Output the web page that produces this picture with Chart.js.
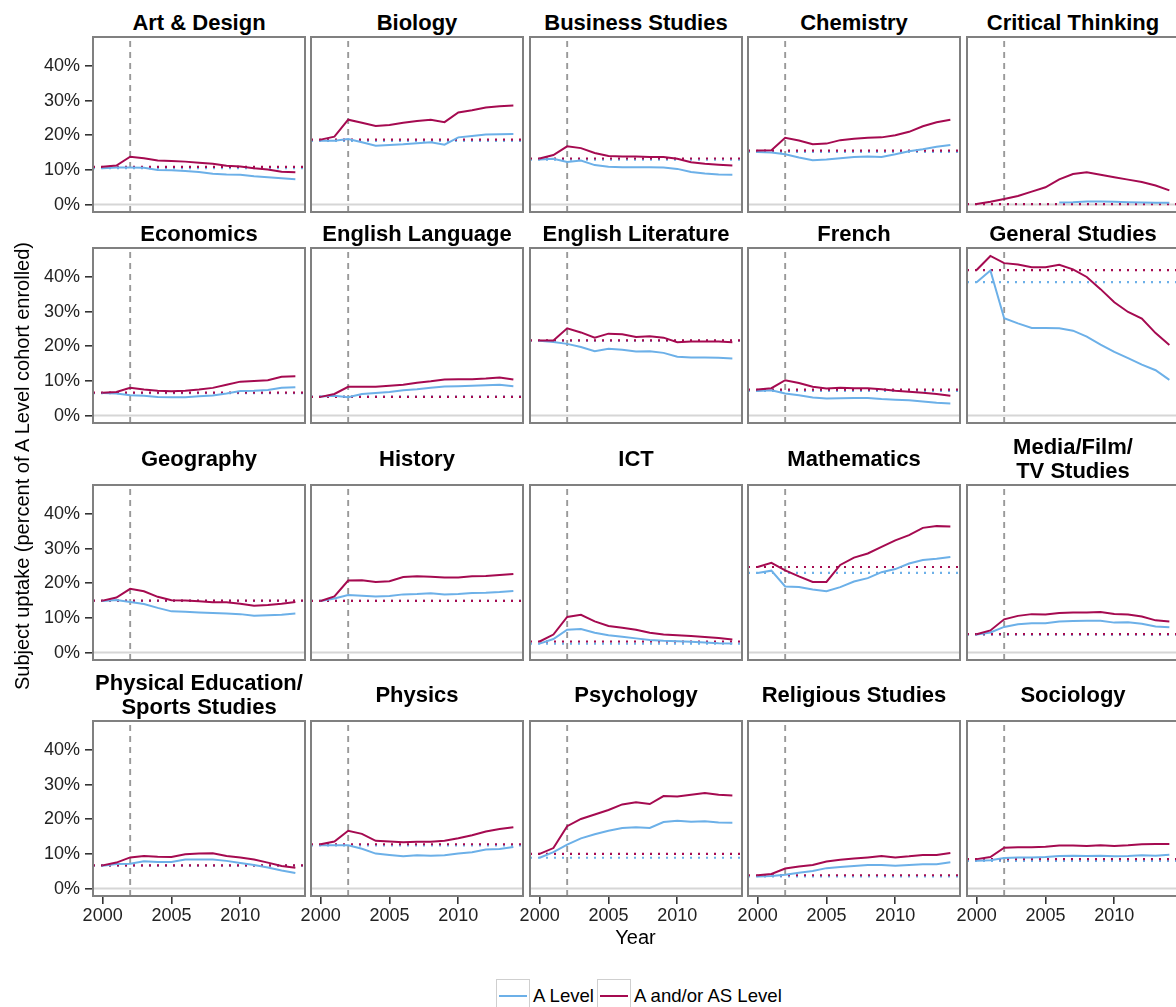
<!DOCTYPE html>
<html>
<head>
<meta charset="utf-8">
<script src="https://cdn.jsdelivr.net/npm/chart.js@4.4.0/dist/chart.umd.min.js"></script>
<style>
  html, body { margin: 0; padding: 0; background: #fff; overflow: hidden; }
  #wrap { position: relative; width: 1176px; height: 1007px; overflow: hidden;
          font-family: "Liberation Sans", Arial, Helvetica, sans-serif; }
  .panel { position: absolute; }
  .panel canvas { display: block; }
  .strip { position: absolute; display: flex; flex-direction: column; justify-content: center;
           align-items: center; font-weight: bold; font-size: 22px; line-height: 24px;
           color: #000; white-space: nowrap; }
  .axis-title { position: absolute; font-size: 20px; line-height: 24px; color: #000;
                text-align: center; white-space: nowrap; }
  .legend { position: absolute; top: 979px; left: 496px; display: flex; align-items: center;
            font-size: 18.6px; color: #000; }
  .key { width: 34px; height: 33px; box-sizing: border-box; border: 1.5px solid #cfcfcf;
         position: relative; margin-right: 3px; }
  .key span { position: absolute; left: 2px; right: 2px; top: 15px; height: 2px; }
  .legend .lbl { margin-right: 3px; }
</style>
</head>
<body>
<div id="wrap"></div>
<script>
// Years of the cohort series
const years = [2000, 2001, 2002, 2003, 2004, 2005, 2006, 2007, 2008, 2009, 2010, 2011, 2012, 2013, 2014];
const reformYear = 2002;

// Axis ticks
const xTicks = [2000, 2005, 2010];
const xTickLabels = ['2000', '2005', '2010'];
const yTicks = [0, 10, 20, 30, 40];
const yTickLabels = ['0%', '10%', '20%', '30%', '40%'];

// Uptake (% of A Level cohort): "A" = A Level, "AS" = A and/or AS Level
const artDesignA  = [10.5, 10.7, 10.7, 10.6, 10.0, 9.9, 9.7, 9.4, 8.9, 8.7, 8.6, 8.2, 7.9, 7.6, 7.3];
const artDesignAS = [10.9, 11.25, 13.8, 13.4, 12.7, 12.6, 12.4, 12.1, 11.8, 11.2, 11.0, 10.5, 10.1, 9.5, 9.3];
const biologyA  = [18.4, 18.4, 18.9, 18.0, 17.0, 17.2, 17.4, 17.7, 18.0, 17.3, 19.4, 19.8, 20.2, 20.3, 20.4];
const biologyAS = [18.75, 19.6, 24.5, 23.6, 22.7, 23.0, 23.6, 24.1, 24.5, 23.8, 26.6, 27.2, 28.0, 28.4, 28.6];
const businessA  = [13.0, 13.2, 12.3, 12.7, 11.4, 10.9, 10.8, 10.8, 10.8, 10.7, 10.3, 9.4, 9.0, 8.7, 8.6];
const businessAS = [13.3, 14.3, 16.8, 16.3, 14.9, 14.0, 13.9, 13.9, 13.75, 13.75, 13.2, 12.2, 11.8, 11.5, 11.25];
const chemistryA  = [15.2, 15.0, 14.5, 13.6, 12.8, 13.0, 13.4, 13.7, 13.85, 13.75, 14.5, 15.4, 16.0, 16.7, 17.2];
const chemistryAS = [15.6, 15.7, 19.3, 18.5, 17.4, 17.6, 18.6, 19.0, 19.3, 19.4, 20.0, 21.0, 22.6, 23.75, 24.5];
const criticalA  = [null, null, null, null, null, null, 0.6, 0.7, 0.9, 0.9, 0.8, 0.7, 0.6, 0.5, 0.5];
const criticalAS = [0.16, 0.8, 1.6, 2.5, 3.75, 5.0, 7.3, 8.8, 9.3, 8.6, 7.9, 7.2, 6.5, 5.5, 4.1];

const economicsA  = [6.5, 6.4, 5.9, 5.7, 5.4, 5.3, 5.3, 5.6, 5.8, 6.4, 7.1, 7.2, 7.4, 8.0, 8.2];
const economicsAS = [6.6, 6.8, 8.0, 7.5, 7.2, 7.0, 7.2, 7.5, 8.0, 8.9, 9.8, 10.0, 10.2, 11.2, 11.35];
const engLangA  = [5.5, 5.7, 5.3, 6.2, 6.5, 6.8, 7.3, 7.6, 8.0, 8.4, 8.5, 8.6, 8.75, 8.9, 8.5];
const engLangAS = [5.4, 6.25, 8.3, 8.3, 8.3, 8.6, 8.9, 9.5, 9.9, 10.4, 10.5, 10.5, 10.7, 11.0, 10.4];
const engLitA  = [21.6, 21.25, 20.7, 19.8, 18.6, 19.3, 19.0, 18.5, 18.6, 18.1, 17.0, 16.8, 16.8, 16.7, 16.5];
const engLitAS = [21.7, 21.7, 25.2, 24.0, 22.5, 23.65, 23.5, 22.7, 22.9, 22.5, 21.2, 21.4, 21.4, 21.4, 21.2];
const frenchA  = [7.1, 7.3, 6.4, 5.9, 5.2, 4.9, 5.0, 5.1, 5.1, 4.8, 4.6, 4.4, 4.1, 3.7, 3.5];
const frenchAS = [7.5, 7.9, 10.2, 9.4, 8.3, 7.8, 8.0, 7.9, 7.9, 7.6, 7.2, 6.9, 6.6, 6.2, 5.7];
const generalA  = [38.5, 41.9, 28.1, 26.6, 25.3, 25.3, 25.2, 24.5, 22.8, 20.5, 18.4, 16.6, 14.7, 13.1, 10.3];
const generalAS = [42.0, 46.07, 44.0, 43.6, 42.8, 42.8, 43.5, 42.2, 40.0, 36.5, 32.7, 29.9, 28.0, 23.8, 20.4];

const geographyA  = [14.9, 15.2, 14.6, 14.0, 12.9, 11.9, 11.8, 11.6, 11.4, 11.25, 11.1, 10.6, 10.8, 10.9, 11.25];
const geographyAS = [15.0, 15.9, 18.4, 17.7, 16.1, 15.1, 15.0, 14.8, 14.5, 14.5, 14.1, 13.5, 13.75, 14.1, 14.6];
const historyA  = [14.9, 15.6, 16.6, 16.4, 16.2, 16.3, 16.8, 16.9, 17.1, 16.8, 16.9, 17.2, 17.3, 17.5, 17.8];
const historyAS = [14.9, 16.2, 20.8, 20.9, 20.4, 20.6, 21.8, 22.0, 21.9, 21.7, 21.7, 22.0, 22.1, 22.4, 22.7];
const ictA  = [2.6, 3.9, 6.6, 6.8, 5.7, 5.0, 4.6, 4.1, 3.6, 3.4, 3.3, 3.1, 2.9, 2.7, 2.6];
const ictAS = [3.2, 5.2, 10.3, 10.9, 9.0, 7.7, 7.2, 6.6, 5.7, 5.2, 5.0, 4.8, 4.5, 4.2, 3.75];
const mathsA  = [23.0, 23.65, 19.1, 18.9, 18.2, 17.7, 18.9, 20.5, 21.5, 23.2, 24.1, 25.7, 26.7, 27.1, 27.6];
const mathsAS = [24.7, 25.9, 23.75, 22.0, 20.4, 20.4, 25.3, 27.4, 28.6, 30.5, 32.4, 33.9, 36.0, 36.5, 36.4];
const mediaA  = [5.2, 5.8, 7.4, 8.2, 8.5, 8.5, 9.0, 9.1, 9.2, 9.2, 8.65, 8.75, 8.3, 7.5, 7.3];
const mediaAS = [5.3, 6.4, 9.6, 10.6, 11.1, 11.0, 11.4, 11.6, 11.6, 11.7, 11.15, 11.0, 10.4, 9.3, 9.0];

const peA  = [6.6, 7.1, 7.2, 7.9, 7.7, 7.7, 8.4, 8.4, 8.4, 8.0, 7.4, 6.8, 6.1, 5.2, 4.5];
const peAS = [6.7, 7.5, 9.0, 9.4, 9.2, 9.1, 9.9, 10.1, 10.2, 9.4, 9.0, 8.4, 7.5, 6.5, 6.0];
const physicsA  = [12.5, 12.5, 12.5, 11.5, 10.1, 9.7, 9.3, 9.6, 9.5, 9.6, 10.1, 10.5, 11.25, 11.4, 12.0];
const physicsAS = [12.8, 13.6, 16.7, 15.8, 13.8, 13.6, 13.4, 13.5, 13.5, 13.8, 14.5, 15.4, 16.5, 17.2, 17.7];
const psychologyA  = [8.9, 10.5, 12.7, 14.5, 15.7, 16.7, 17.5, 17.7, 17.5, 19.2, 19.6, 19.3, 19.4, 19.1, 19.0];
const psychologyAS = [10.0, 11.7, 18.0, 20.1, 21.4, 22.7, 24.3, 24.9, 24.4, 26.7, 26.6, 27.1, 27.6, 27.1, 26.9];
const religiousA  = [3.5, 3.6, 4.0, 4.6, 5.1, 5.9, 6.25, 6.5, 6.8, 6.8, 6.6, 6.8, 7.0, 7.0, 7.6];
const religiousAS = [3.85, 4.2, 5.8, 6.4, 6.8, 7.8, 8.3, 8.65, 9.0, 9.4, 9.0, 9.3, 9.7, 9.7, 10.3];
const sociologyA  = [8.0, 8.2, 8.85, 8.95, 8.95, 9.1, 9.4, 9.5, 9.4, 9.5, 9.3, 9.4, 9.6, 9.5, 9.8];
const sociologyAS = [8.5, 9.1, 11.8, 11.9, 11.9, 12.1, 12.4, 12.4, 12.3, 12.5, 12.3, 12.5, 12.8, 12.9, 12.9];

// Facet list, in reading order
const panels = [
  { title: ['Art & Design'], a: artDesignA, as: artDesignAS },
  { title: ['Biology'], a: biologyA, as: biologyAS },
  { title: ['Business Studies'], a: businessA, as: businessAS },
  { title: ['Chemistry'], a: chemistryA, as: chemistryAS },
  { title: ['Critical Thinking'], a: criticalA, as: criticalAS },
  { title: ['Economics'], a: economicsA, as: economicsAS },
  { title: ['English Language'], a: engLangA, as: engLangAS },
  { title: ['English Literature'], a: engLitA, as: engLitAS },
  { title: ['French'], a: frenchA, as: frenchAS },
  { title: ['General Studies'], a: generalA, as: generalAS },
  { title: ['Geography'], a: geographyA, as: geographyAS },
  { title: ['History'], a: historyA, as: historyAS },
  { title: ['ICT'], a: ictA, as: ictAS },
  { title: ['Mathematics'], a: mathsA, as: mathsAS },
  { title: ['Media/Film/', 'TV Studies'], a: mediaA, as: mediaAS },
  { title: ['Physical Education/', 'Sports Studies'], a: peA, as: peAS },
  { title: ['Physics'], a: physicsA, as: physicsAS },
  { title: ['Psychology'], a: psychologyA, as: psychologyAS },
  { title: ['Religious Studies'], a: religiousA, as: religiousAS },
  { title: ['Sociology'], a: sociologyA, as: sociologyAS }
];

const seriesNames = ['A Level', 'A and/or AS Level'];
const colA = '#6cb0e8';
const colAS = '#a50a50';

// Shared scale ranges (with the usual 5% expansion)
const xMin = 1999.3, xMax = 2014.7;
const yMin = -2.14, yMax = 48.37;

// Facet grid geometry
const colLeft = [93, 311, 530, 748, 967];
const rowTop = [37, 248, 485, 721];
const panelW = 212, panelH = 175;
const padL = 60, padT = 16, padB = 40, padR = 2;
const stripH = [24, 24, 48, 48];

Chart.defaults.font.family = '"Liberation Sans", Arial, Helvetica, sans-serif';
Chart.defaults.color = '#222';

const framePlugin = {
  id: 'panelFrame',
  afterDraw(chart) {
    const { ctx, chartArea: a } = chart;
    ctx.save();
    ctx.strokeStyle = '#808080';
    ctx.lineWidth = 2;
    ctx.strokeRect(a.left, a.top, a.right - a.left, a.bottom - a.top);
    ctx.restore();
  }
};

const wrap = document.getElementById('wrap');

function series(vals) {
  return years.map((yr, i) => ({ x: yr, y: vals[i] }));
}

panels.forEach((p, i) => {
  const r = Math.floor(i / 5), c = i % 5;
  const showX = r === 3, showY = c === 0;

  // strip title
  const strip = document.createElement('div');
  strip.className = 'strip';
  strip.style.left = colLeft[c] + 'px';
  strip.style.width = panelW + 'px';
  strip.style.height = stripH[r] + 'px';
  strip.style.top = (rowTop[r] - 2.5 - stripH[r]) + 'px';
  p.title.forEach(t => {
    const s = document.createElement('div');
    s.textContent = t;
    strip.appendChild(s);
  });
  wrap.appendChild(strip);

  const box = document.createElement('div');
  box.className = 'panel';
  box.style.left = (colLeft[c] - padL) + 'px';
  box.style.top = (rowTop[r] - padT) + 'px';
  box.style.width = (padL + panelW + padR) + 'px';
  box.style.height = (padT + panelH + padB) + 'px';
  const cv = document.createElement('canvas');
  box.appendChild(cv);
  wrap.appendChild(box);

  const datasets = [
    { data: [{ x: xMin, y: 0 }, { x: xMax, y: 0 }], borderColor: '#d6d6d6', borderWidth: 2, order: 7 },
    { data: [{ x: reformYear, y: yMin }, { x: reformYear, y: yMax }], borderColor: '#999999',
      borderWidth: 1.9, borderDash: [6, 5], order: 6 }
  ];
  if (p.a[0] !== null) {
    datasets.push({ data: [{ x: xMin, y: p.a[0] }, { x: xMax, y: p.a[0] }], borderColor: colA,
                    borderWidth: 2.2, borderDash: [2, 6], order: 4 });
  }
  datasets.push({ data: [{ x: xMin, y: p.as[0] }, { x: xMax, y: p.as[0] }], borderColor: colAS,
                  borderWidth: 2.2, borderDash: [2, 6], order: 3 });
  datasets.push({ label: seriesNames[0], data: series(p.a), borderColor: colA, borderWidth: 2, order: 2 });
  datasets.push({ label: seriesNames[1], data: series(p.as), borderColor: colAS, borderWidth: 2, order: 1 });

  new Chart(cv, {
    type: 'line',
    data: { datasets },
    plugins: [framePlugin],
    options: {
      responsive: true,
      maintainAspectRatio: false,
      animation: false,
      devicePixelRatio: 1,
      events: [],
      layout: { padding: { left: 0, top: padT, right: padR, bottom: 0 } },
      elements: { point: { radius: 0 }, line: { tension: 0, fill: false } },
      spanGaps: false,
      plugins: { legend: { display: false }, tooltip: { enabled: false } },
      scales: {
        x: {
          type: 'linear', min: xMin, max: xMax,
          afterBuildTicks: s => { s.ticks = xTicks.map(v => ({ value: v })); },
          afterFit: s => { s.height = padB; },
          ticks: { display: showX, autoSkip: false, maxRotation: 0, padding: 1,
                   font: { size: 18 }, color: '#222',
                   callback: (v, idx) => xTickLabels[idx] },
          grid: { display: true, drawOnChartArea: false, drawTicks: showX, tickLength: 8,
                  color: '#333', lineWidth: 1.6 },
          border: { display: false }
        },
        y: {
          type: 'linear', min: yMin, max: yMax,
          afterBuildTicks: s => { s.ticks = yTicks.map(v => ({ value: v })); },
          afterFit: s => { s.width = padL; },
          ticks: { display: showY, padding: 5, font: { size: 18 }, color: '#222',
                   callback: (v, idx) => yTickLabels[idx] },
          grid: { display: true, drawOnChartArea: false, drawTicks: showY, tickLength: 8,
                  color: '#333', lineWidth: 1.6 },
          border: { display: false }
        }
      }
    }
  });
});

// Axis titles
const yTitle = document.createElement('div');
yTitle.className = 'axis-title';
yTitle.textContent = 'Subject uptake (percent of A Level cohort enrolled)';
yTitle.style.width = '900px';
yTitle.style.left = (22 - 450) + 'px';
yTitle.style.top = (466 - 12) + 'px';
yTitle.style.transform = 'rotate(-90deg)';
wrap.appendChild(yTitle);

const xTitle = document.createElement('div');
xTitle.className = 'axis-title';
xTitle.textContent = 'Year';
xTitle.style.width = '200px';
xTitle.style.left = (635.5 - 100) + 'px';
xTitle.style.top = '925px';
wrap.appendChild(xTitle);

// Legend
const legend = document.createElement('div');
legend.className = 'legend';
[[seriesNames[0], colA], [seriesNames[1], colAS]].forEach(([name, col]) => {
  const k = document.createElement('div');
  k.className = 'key';
  const ln = document.createElement('span');
  ln.style.background = col;
  k.appendChild(ln);
  const t = document.createElement('div');
  t.className = 'lbl';
  t.textContent = name;
  legend.appendChild(k);
  legend.appendChild(t);
});
wrap.appendChild(legend);
</script>
</body>
</html>
